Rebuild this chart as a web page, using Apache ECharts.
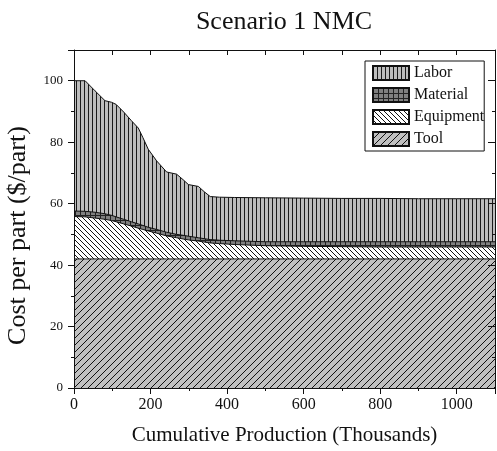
<!DOCTYPE html>
<html><head><meta charset="utf-8">
<script src="https://cdn.jsdelivr.net/npm/echarts@6/dist/echarts.min.js"></script>
<style>html,body{margin:0;padding:0;background:#fff}#c{width:497px;height:451px}</style>
</head><body><div id="c"></div>
<script>
// Cumulative production (thousands)
const production = [0, 29, 55, 81, 98, 110, 130, 150, 168, 180, 194, 216, 242, 268, 285, 299, 325, 340, 356, 380, 420, 500, 600, 700, 800, 900, 1000, 1100];
// Cost components ($/part), stacked bottom to top: Tool, Equipment, Material, Labor
const tool      = [42, 42, 42, 42, 42, 42, 42, 42, 42, 42, 42, 42, 42, 42, 42, 42, 42, 42, 42, 42, 42, 42, 42, 42, 42, 42, 42, 42];
const equipment = [13.8, 13.7, 13.3, 12.9, 12.5, 12.1, 11.4, 10.7, 10.0, 9.6, 9.1, 8.4, 7.5, 6.9, 6.5, 6.2, 5.8, 5.5, 5.2, 5.0, 4.7, 4.3, 4.1, 4.0, 3.9, 3.9, 3.9, 3.9];
const material  = [1.8, 1.8, 1.9, 1.8, 1.7, 1.6, 1.5, 1.4, 1.4, 1.3, 1.2, 1.2, 1.2, 1.1, 1.2, 1.2, 1.1, 1.1, 1.1, 1.1, 1.2, 1.3, 1.5, 1.6, 1.7, 1.7, 1.7, 1.7];
const labor     = [42.4, 42.5, 39.5, 36.8, 36.8, 36.6, 34.9, 32.9, 31.2, 28.6, 25.4, 22.3, 19.6, 19.6, 18.1, 16.8, 16.7, 15.3, 14.0, 14.0, 14.1, 14.3, 14.2, 14.1, 14.1, 14.0, 14.0, 14.0];
const stackOrder = ['Tool', 'Equipment', 'Material', 'Labor'];
const legendOrder = ['Labor', 'Material', 'Equipment', 'Tool'];
const xTicks = [0, 200, 400, 600, 800, 1000];
const yTicks = [0, 20, 40, 60, 80, 100];

function tile(w, h, bg, draw) {
  const c = document.createElement('canvas');
  c.width = w; c.height = h;
  const g = c.getContext('2d');
  g.fillStyle = bg; g.fillRect(0, 0, w, h);
  g.strokeStyle = '#111'; g.lineWidth = 1;
  draw(g, w, h);
  return { image: c, repeat: 'repeat' };
}
const patTool = tile(7, 7, '#c0c0c0', (g, w, h) => {
  g.beginPath();
  g.moveTo(-1, h + 1); g.lineTo(w + 1, -1);
  g.moveTo(-2, 2); g.lineTo(2, -2);
  g.moveTo(w - 2, h + 2); g.lineTo(w + 2, h - 2);
  g.stroke();
});
const patEquip = tile(5, 5, '#ffffff', (g, w, h) => {
  g.beginPath();
  g.moveTo(-1, -1); g.lineTo(w + 1, h + 1);
  g.moveTo(-2, h - 2); g.lineTo(2, h + 2);
  g.moveTo(w - 2, -2); g.lineTo(w + 2, 2);
  g.stroke();
});
const patMat = tile(5, 5, '#808080', (g, w, h) => {
  g.fillStyle = '#222';
  g.fillRect(0, 0, w, 1); g.fillRect(0, 0, 1, h);
});
const patLabor = tile(4, 4, '#bdbdbd', (g, w, h) => {
  g.fillStyle = '#1a1a1a';
  g.fillRect(0, 0, 1, h);
});
const pats = { Tool: patTool, Equipment: patEquip, Material: patMat, Labor: patLabor };
const values = { Tool: tool, Equipment: equipment, Material: material, Labor: labor };

// cumulative tops of each layer (each layer drawn as area from 0 up to its cumulative top; upper layers drawn first)
const cumulative = {};
let running = production.map(() => 0);
stackOrder.forEach(n => {
  running = running.map((v, i) => +(v + values[n][i]).toFixed(2));
  cumulative[n] = running.slice();
});

const FONT = '"Liberation Serif", "Times New Roman", serif';
const chart = echarts.init(document.getElementById('c'), null, { renderer: 'canvas' });

const series = stackOrder.slice().reverse().map((n, k) => ({
  name: n,
  type: 'line',
  symbol: 'none',
  z: 2 + k,
  xAxisIndex: 0, yAxisIndex: 0,
  data: production.map((x, i) => [x, cumulative[n][i]]),
  lineStyle: { color: '#111', width: 1 },
  itemStyle: { color: pats[n], borderColor: '#111', borderWidth: 1 },
  areaStyle: { color: pats[n], opacity: 1, origin: 'start' },
  emphasis: { disabled: true },
  animation: false
}));

chart.setOption({
  animation: false,
  backgroundColor: '#fff',
  title: {
    text: 'Scenario 1 NMC', left: 279, top: 4, textAlign: 'center',
    textStyle: { fontFamily: FONT, fontWeight: 'normal', fontSize: 26, color: '#111' }
  },
  legend: {
    data: legendOrder, orient: 'vertical', left: 365, top: 61, z: 20,
    icon: 'rect', itemWidth: 36, itemHeight: 14, itemGap: 6,
    borderColor: '#111', borderWidth: 1, padding: [4, 0, 4, 7],
    backgroundColor: '#fff',
    textStyle: { fontFamily: FONT, fontSize: 16, lineHeight: 14, color: '#111' },
    selectedMode: false
  },
  grid: { left: 74, top: 50, right: 2, bottom: 63, containLabel: false, outerBoundsMode: 'none' },
  xAxis: [{
    type: 'value', min: 0, max: 1100, interval: 200, position: 'bottom', z: 10,
    name: 'Cumulative Production (Thousands)', nameLocation: 'middle', nameGap: 37,
    nameTextStyle: { fontFamily: FONT, fontSize: 21, color: '#111' },
    axisLine: { show: true, onZero: false, lineStyle: { color: '#111', width: 1 } },
    axisTick: { show: true, inside: false, length: 6, lineStyle: { color: '#111' } },
    minorTick: { show: true, splitNumber: 2, length: 3, lineStyle: { color: '#111' } },
    axisLabel: { fontFamily: FONT, fontSize: 16, color: '#111', margin: 9,
      formatter: v => xTicks.includes(v) ? String(v) : '' },
    splitLine: { show: false }
  }, {
    type: 'value', min: 0, max: 1100, interval: 100, position: 'top', z: 10,
    axisLine: { show: true, onZero: false, lineStyle: { color: '#111', width: 1 } },
    axisTick: { show: true, inside: true, length: 5, lineStyle: { color: '#111' } },
    axisLabel: { show: false }, splitLine: { show: false }
  }],
  yAxis: [{
    type: 'value', min: 0, max: 110, interval: 20, position: 'left', z: 10,
    name: 'Cost per part ($/part)', nameLocation: 'middle', nameGap: 43, nameRotate: 90,
    nameTextStyle: { fontFamily: FONT, fontSize: 26, color: '#111', padding: [0, 33, 0, 0] },
    axisLine: { show: true, onZero: false, lineStyle: { color: '#111', width: 1 } },
    axisTick: { show: true, inside: false, length: 6, lineStyle: { color: '#111' } },
    minorTick: { show: true, splitNumber: 2, length: 3, lineStyle: { color: '#111' } },
    axisLabel: { fontFamily: FONT, fontSize: 13, color: '#111', margin: 11,
      formatter: v => yTicks.includes(v) ? String(v) : '' },
    splitLine: { show: false }
  }, {
    type: 'value', min: 0, max: 110, interval: 20, position: 'right', z: 10,
    axisLine: { show: true, onZero: false, lineStyle: { color: '#111', width: 1 } },
    axisTick: { show: true, inside: true, length: 7, lineStyle: { color: '#111' } },
    minorTick: { show: true, splitNumber: 2, length: 3, lineStyle: { color: '#111' } },
    axisLabel: { show: false }, splitLine: { show: false }
  }],
  series: series
});
</script></body></html>
